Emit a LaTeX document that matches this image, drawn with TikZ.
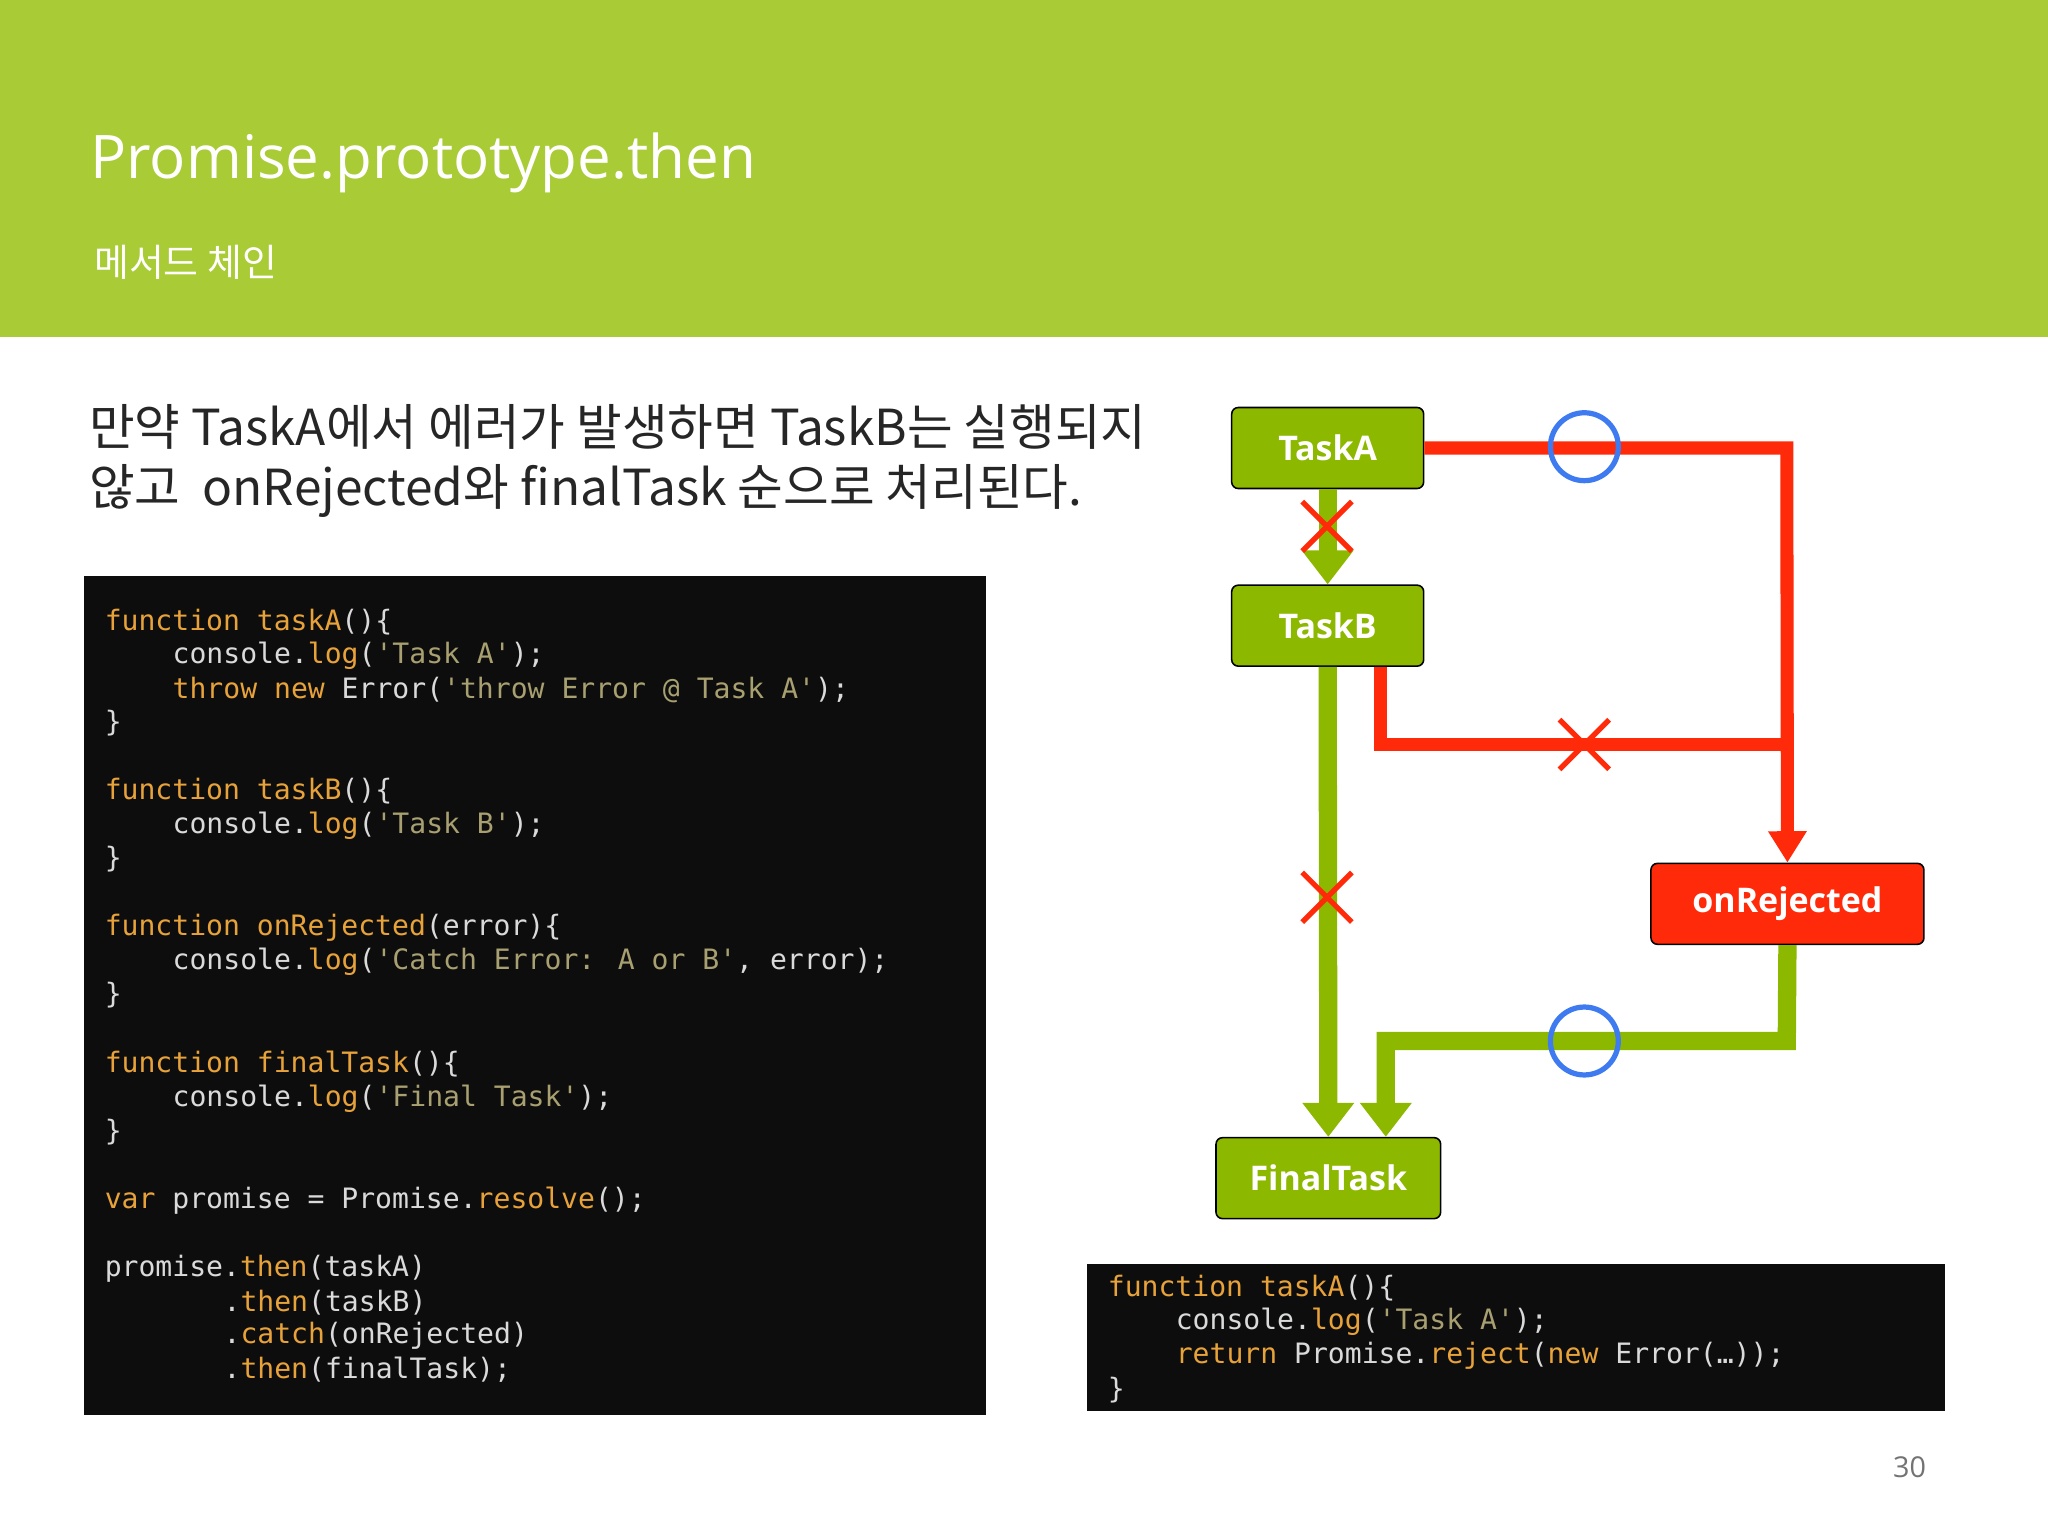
\documentclass[tikz,border=0pt]{standalone}
\usepackage{fontspec}
\setmainfont{Open Sans}
\newfontfamily\cjk{Noto Sans CJK KR}
\newfontfamily\codef{DejaVu Sans Mono}
\usetikzlibrary{arrows.meta}
\definecolor{hdr}{HTML}{A9CB35}
\definecolor{tgreen}{HTML}{8DB800}
\definecolor{tred}{HTML}{FF2A0A}
\definecolor{cblue}{HTML}{3E7BF0}
\definecolor{ckwc}{HTML}{E8A23A}
\definecolor{cstc}{HTML}{A8A070}
\definecolor{cdef}{HTML}{DADADA}
\newcommand{\ckw}[1]{\textcolor{ckwc}{#1}}
\newcommand{\cst}[1]{\textcolor{cstc}{#1}}
\tikzset{
 code/.style={anchor=west,inner sep=0pt,text=cdef,font=\codef\fontsize{21.5}{26}\selectfont},
 task/.style={draw=black,line width=1.2pt,rounded corners=5pt,fill=tgreen,text=white,font=\bfseries\fontsize{26}{30}\selectfont,minimum height=62pt,inner sep=0pt},
 gline/.style={draw=tgreen,line width=14pt},
 rline/.style={draw=tred,line width=10pt},
 garr/.style={gline,-{Triangle[width=38pt,length=26pt]}},
 rarr/.style={rline,-{Triangle[width=28pt,length=24pt]}},
 xmark/.style={draw=tred,line width=4pt},
 okc/.style={draw=cblue,line width=4pt,circle,minimum size=52pt,inner sep=0pt}
}
\begin{document}
\begin{tikzpicture}[x=1pt,y=-1pt]
\useasboundingbox (0,0) rectangle (1568,1176);
\fill[white] (0,0) rectangle (1568,1176);
\fill[hdr] (0,0) rectangle (1568,258);
\node[anchor=west,text=white,font=\fontsize{46}{50}\selectfont,inner sep=0pt] (title) at (69,125) {Promise.prototype.then};
\node[anchor=west,text=white,font=\cjk\fontsize{29}{32}\selectfont,inner sep=0pt] (sub) at (72,201) {메서드 체인};
\node[anchor=west,text=black!85,font=\cjk\fontsize{38}{46}\selectfont,inner sep=0pt,align=left] (desc) at (68,353) {만약 TaskA에서 에러가 발생하면 TaskB는 실행되지\\않고~ onRejected와 finalTask 순으로 처리된다.};
% left code
\fill[black!95] (64,441) rectangle (755,1083);
\node[code] (l1) at (80,476) {\ckw{function} \ckw{taskA}()\{};
\node[code] (l2) at (132,502) {console.\ckw{log}(\cst{'Task A'});};
\node[code] (l3) at (132,528) {\ckw{throw} \ckw{new} Error(\cst{'throw Error @ Task A'});};
\node[code] (l4) at (80,554) {\}};
\node[code] (l5) at (80,606) {\ckw{function} \ckw{taskB}()\{};
\node[code] (l6) at (132,632) {console.\ckw{log}(\cst{'Task B'});};
\node[code] (l7) at (80,658) {\}};
\node[code] (l8) at (80,710) {\ckw{function} \ckw{onRejected}(error)\{};
\node[code] (l9) at (132,736) {console.\ckw{log}(\cst{'Catch Error: A or B'}, error);};
\node[code] (l10) at (80,762) {\}};
\node[code] (l11) at (80,815) {\ckw{function} \ckw{finalTask}()\{};
\node[code] (l12) at (132,841) {console.\ckw{log}(\cst{'Final Task'});};
\node[code] (l13) at (80,867) {\}};
\node[code] (l14) at (80,919) {\ckw{var} promise = Promise.\ckw{resolve}();};
\node[code] (l15) at (80,971) {promise.\ckw{then}(taskA)};
\node[code] (l16) at (171,997) {.\ckw{then}(taskB)};
\node[code] (l17) at (171,1023) {.\ckw{catch}(onRejected)};
\node[code] (l18) at (171,1049) {.\ckw{then}(finalTask);};
% right code
\fill[black!95] (832,968) rectangle (1489,1080);
\node[code] (r1) at (848,986) {\ckw{function} \ckw{taskA}()\{};
\node[code] (r2) at (900,1012) {console.\ckw{log}(\cst{'Task A'});};
\node[code] (r3) at (900,1038) {\ckw{return} Promise.\ckw{reject}(\ckw{new} Error(…));};
\node[code] (r4) at (848,1064) {\}};
% diagram
\node[task,minimum width=147pt] (A) at (1016.5,343) {TaskA};
\node[task,minimum width=147pt] (B) at (1016.5,479) {TaskB};
\node[task,minimum width=209pt,fill=tred] (R) at (1368.5,692) {onRejected};
\node[task,minimum width=172pt] (F) at (1017,902) {FinalTask};
\coordinate (c1) at (1368,343);
\coordinate (c2) at (1057,570);
\coordinate (c3) at (1368,570);
\coordinate (c4) at (1368,797);
\coordinate (c5) at (1061,797);
\draw[garr] (A.south) -- (B.north);
\draw[garr] (B.south) -- (F.north);
\draw[garr] (R.south) -- (c4) -- (c5) -- (c5 |- F.north);
\draw[rline] (c2 |- B.south) -- (c2) -- (c3);
\draw[rarr] (A.east) -- (c1) -- (R.north);
\node[okc] (o1) at (1213,342) {};
\node[okc] (o2) at (1213,797) {};
\foreach \n/\x/\y in {x1/1016/403,x2/1213/570,x3/1016/687}{
 \coordinate (\n) at (\x,\y);
 \draw[xmark] ([shift={(-19,-19)}]\n) -- ([shift={(19,19)}]\n);
 \draw[xmark] ([shift={(-19,19)}]\n) -- ([shift={(19,-19)}]\n);
}
\node[text=black!55,font=\fontsize{22}{24}\selectfont] (pg) at (1462,1123) {30};
\end{tikzpicture}
\end{document}
